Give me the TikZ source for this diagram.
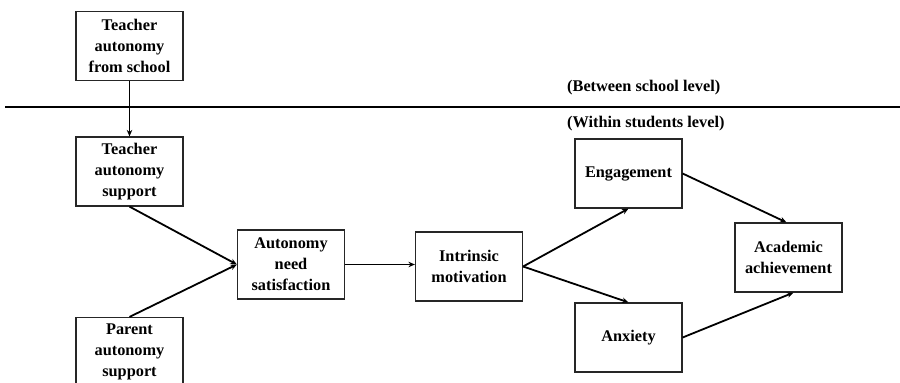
\documentclass[tikz,border=0pt]{standalone}
\usepackage{fontspec}
\setmainfont{Liberation Serif}
\usetikzlibrary{arrows.meta}
\begin{document}
\begin{tikzpicture}[x=1pt,y=-1pt,
  box/.style={draw=black!85,line width=1.2pt,minimum width=107pt,minimum height=69pt,
    align=center,inner sep=0pt,font=\fontsize{16.3}{21}\selectfont\bfseries},
  arr/.style={line width=1.8pt,-{Stealth[length=6.5pt,width=5.5pt]}},
  lvl/.style={anchor=west,inner sep=0pt,font=\fontsize{16.3}{21}\selectfont\bfseries}]
\useasboundingbox (0,0) rectangle (900,383);
\clip (0,0) rectangle (900,383);
\node[box] (tas) at (129.5,46) {Teacher\\autonomy\\from school};
\node[box] (tsup) at (129.5,171.5) {Teacher\\autonomy\\support};
\node[box] (par) at (129.5,352) {Parent\\autonomy\\support};
\node[box] (ans) at (291,264.5) {Autonomy\\need\\satisfaction};
\node[box] (im) at (469,266.5) {Intrinsic\\motivation};
\node[box] (eng) at (628.5,173.5) {Engagement};
\node[box] (anx) at (628.5,337.5) {Anxiety};
\node[box] (aa) at (788.5,257.5) {Academic\\achievement};
\coordinate (ll) at (5,106.5);
\coordinate (lr) at (900,106.5);
\draw[line width=2pt] (ll) -- (lr);
\node[lvl] (bs) at (567,88) {(Between school level)};
\node[lvl] (ws) at (567,124) {(Within students level)};
\draw[arr] (tas.south) -- (tsup.north);
\draw[arr] (tsup.south) -- (ans.west);
\draw[arr] (par.north) -- (ans.west);
\draw[arr] (ans.east) -- (im.west |- ans.east);
\draw[arr] (im.east) -- (eng.south);
\draw[arr] (im.east) -- (anx.north);
\draw[arr] (eng.east) -- ([xshift=-2pt]aa.north);
\draw[arr] (anx.east) -- ([xshift=5pt]aa.south);
\end{tikzpicture}
\end{document}
